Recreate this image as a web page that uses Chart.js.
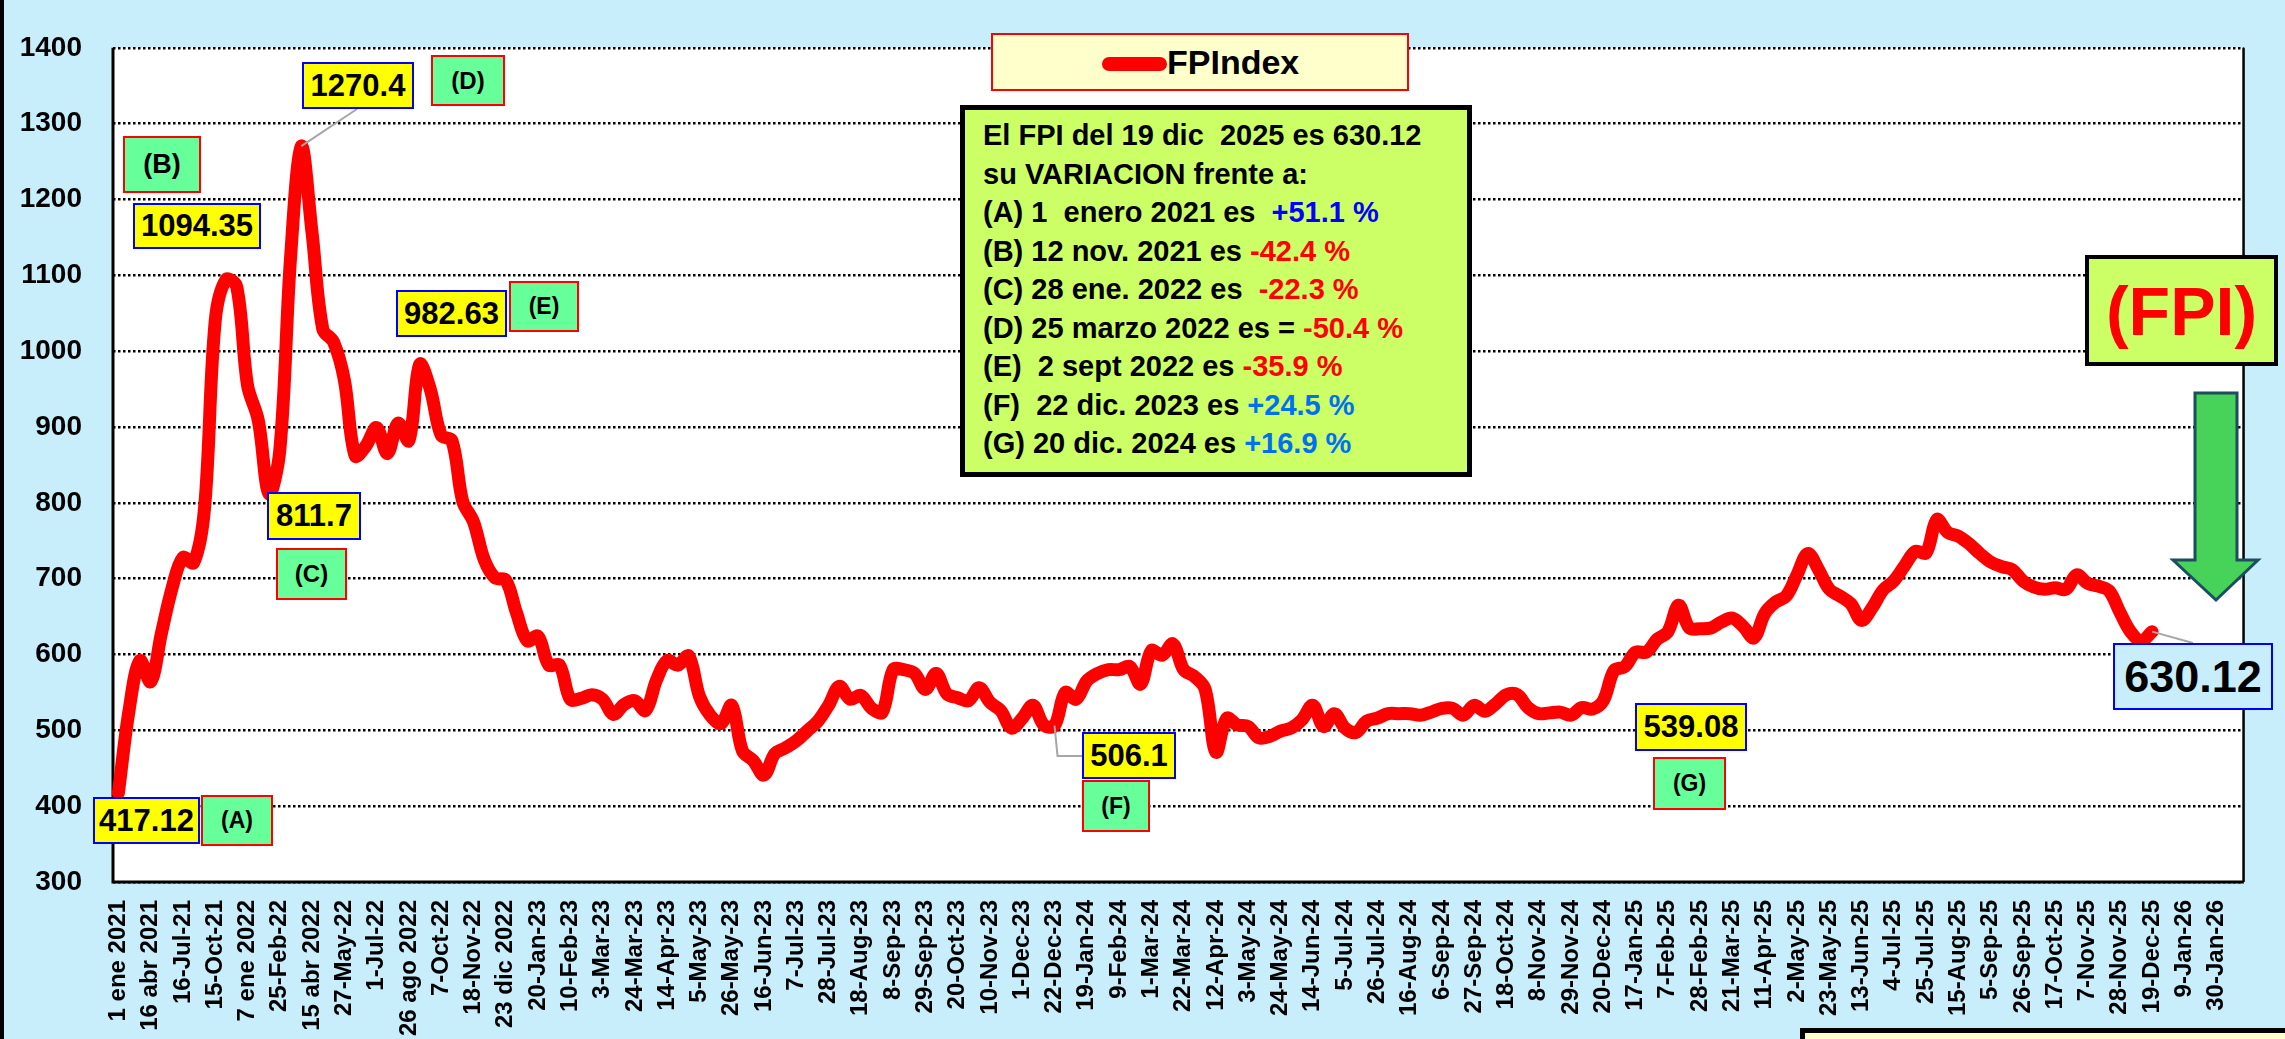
<!DOCTYPE html>
<html><head><meta charset="utf-8">
<script src="https://cdn.jsdelivr.net/npm/chart.js@4.4.1/dist/chart.umd.min.js"></script>
<style>
html,body{margin:0;padding:0;background:#C8EDFB;}
#wrap{position:relative;width:2285px;height:1039px;overflow:hidden;background:#C8EDFB;font-family:"Liberation Sans",Arial,sans-serif;font-weight:bold;}
#c{position:absolute;left:0;top:0;}
.box{position:absolute;box-sizing:border-box;display:flex;align-items:center;justify-content:center;color:#000;white-space:pre;}
.val{background:#FFFF00;border:2px solid #0000FF;font-size:31px;}
.tag{background:#66FF99;border:2px solid #FF0000;font-size:23px;}
#note{position:absolute;left:960px;top:105px;width:512px;height:372px;box-sizing:border-box;background:#CCFF66;border:5px solid #000;padding:6px 0 0 18px;font-size:29px;line-height:38.5px;white-space:pre;color:#000;}
.r{color:#FF0000}.b1{color:#0000FF}.b2{color:#0070F0}
#legend{position:absolute;left:991px;top:33px;width:418px;height:58px;box-sizing:border-box;background:#FFFFCC;border:2px solid #FF0000;}
#legline{position:absolute;left:109px;top:22px;width:65px;height:14px;border-radius:7px;background:#FF0000;}
#legtxt{position:absolute;left:174px;top:0;height:54px;line-height:54px;font-size:34px;color:#000;}
#fpi{position:absolute;left:2085px;top:255px;width:193px;height:111px;box-sizing:border-box;background:#CCFF66;border:4px solid #000;display:flex;align-items:center;justify-content:center;color:#FF0000;font-size:68px;}
#strip{position:absolute;left:0;top:0;width:4px;height:1039px;background:#000;}
#src{position:absolute;left:1800px;top:1028px;width:600px;height:100px;box-sizing:border-box;background:#FFFFCC;border:5px solid #000;}
svg{position:absolute;left:0;top:0;}
</style></head>
<body><div id="wrap">
<canvas id="c" width="2285" height="1039"></canvas>
<div id="strip"></div>
<div id="legend"><div id="legline"></div><div id="legtxt">FPIndex</div></div>
<div id="note"><div>El FPI del 19 dic  2025 es 630.12</div><div>su VARIACION frente a:</div><div>(A) 1  enero 2021 es  <span class="b1">+51.1 %</span></div><div>(B) 12 nov. 2021 es <span class="r">-42.4 %</span></div><div>(C) 28 ene. 2022 es  <span class="r">-22.3 %</span></div><div>(D) 25 marzo 2022 es = <span class="r">-50.4 %</span></div><div>(E)  2 sept 2022 es <span class="r">-35.9 %</span></div><div>(F)  22 dic. 2023 es <span class="b2">+24.5 %</span></div><div>(G) 20 dic. 2024 es <span class="b2">+16.9 %</span></div></div>
<div id="fpi">(FPI)</div>
<svg width="2285" height="1039"><polygon points="2195,393 2237,393 2237,560 2258,560 2216,600 2173,560 2195,560" fill="#47D35A" stroke="#1B4F5F" stroke-width="3" stroke-linejoin="miter"/></svg>
<div class="box val" style="left:93px;top:797px;width:107px;height:47px;">417.12</div>
<div class="box tag" style="left:201px;top:795px;width:72px;height:51px;">(A)</div>
<div class="box tag" style="left:123px;top:136px;width:78px;height:57px;font-size:27px;">(B)</div>
<div class="box val" style="left:133px;top:203px;width:128px;height:46px;">1094.35</div>
<div class="box val" style="left:302px;top:62px;width:112px;height:47px;">1270.4</div>
<div class="box tag" style="left:431px;top:55px;width:74px;height:51px;font-size:24px;">(D)</div>
<div class="box val" style="left:267px;top:492px;width:94px;height:48px;">811.7</div>
<div class="box tag" style="left:276px;top:548px;width:71px;height:52px;font-size:24px;">(C)</div>
<div class="box val" style="left:396px;top:290px;width:111px;height:47px;">982.63</div>
<div class="box tag" style="left:509px;top:281px;width:70px;height:51px;">(E)</div>
<div class="box val" style="left:1082px;top:732px;width:94px;height:47px;">506.1</div>
<div class="box tag" style="left:1082px;top:780px;width:68px;height:52px;">(F)</div>
<div class="box val" style="left:1635px;top:703px;width:112px;height:48px;">539.08</div>
<div class="box tag" style="left:1653px;top:757px;width:73px;height:53px;">(G)</div>
<div class="box val" style="left:2113px;top:643px;width:160px;height:67px;background:#C8EDFB;font-size:45px;">630.12</div>
<div id="src"></div>
</div>
<script>
// Tick labels shown on the category axis (one every 3 categories)
const tickLabels = ["1 ene 2021","16 abr 2021","16-Jul-21","15-Oct-21","7 ene 2022","25-Feb-22","15 abr 2022","27-May-22","1-Jul-22","26 ago 2022","7-Oct-22","18-Nov-22","23 dic 2022","20-Jan-23","10-Feb-23","3-Mar-23","24-Mar-23","14-Apr-23","5-May-23","26-May-23","16-Jun-23","7-Jul-23","28-Jul-23","18-Aug-23","8-Sep-23","29-Sep-23","20-Oct-23","10-Nov-23","1-Dec-23","22-Dec-23","19-Jan-24","9-Feb-24","1-Mar-24","22-Mar-24","12-Apr-24","3-May-24","24-May-24","14-Jun-24","5-Jul-24","26-Jul-24","16-Aug-24","6-Sep-24","27-Sep-24","18-Oct-24","8-Nov-24","29-Nov-24","20-Dec-24","17-Jan-25","7-Feb-25","28-Feb-25","21-Mar-25","11-Apr-25","2-May-25","23-May-25","13-Jun-25","4-Jul-25","25-Jul-25","15-Aug-25","5-Sep-25","26-Sep-25","17-Oct-25","7-Nov-25","28-Nov-25","19-Dec-25","9-Jan-26","30-Jan-26"];
const categoriesPerTick = 3;
// FPIndex series values (one per category)
const fpiValues = [417.12,527,592,564,628,688,728,721,792,1040,
1094.35,1085,955,909,811.7,869,1123,1270.4,1156,1029,
1012,962,862,875,899,865,905,882,982.63,949,
889,882,802,775,725,701,698,655,618,624,
586,586,541,542,547,541,521,534,539,526,
566,592,586,598,545,520,509,533,473,460,
441,469,477,486,499,512,533,558,541,546,
529,524,580,580,575,554,575,548,543,539,
556,537,526,503,516,533,507,506.1,550,541,
565,575,580,580,584,561,605,599,614,580,
571,554,471,516,507,505,490,492,499,503,
514,533,505,522,503,497,512,516,522,522,
522,520,524,529,529,520,533,525,535,547,
547,530,522,523,524,520,530,528,539.08,579,
584,603,603,620,630,665,635,634,635,643,
648,637,622,654,669,677,705,733,712,686,
677,667,645,662,685,697,717,736,734,778,
761,756,746,733,722,716,712,697,689,686,
688,686,705,694,690,684,656,630,618,630.12];
// Categories: tick label every 3rd category, others unlabeled
const categories = [];
for (let i = 0; i < tickLabels.length * categoriesPerTick; i++) {
  categories.push(i % categoriesPerTick === 0 ? tickLabels[i / categoriesPerTick] : '');
}
const FONT = '"Liberation Sans", Arial, sans-serif';

const framePlugin = {
  id: 'frame',
  beforeDraw(chart) {
    const a = chart.chartArea, c = chart.ctx;
    c.save(); c.fillStyle = '#FFFFFF';
    c.fillRect(a.left, a.top, a.right - a.left, a.bottom - a.top);
    c.restore();
  },
  beforeDatasetsDraw(chart) {
    const a = chart.chartArea, c = chart.ctx;
    c.save(); c.strokeStyle = '#000'; c.setLineDash([]);
    c.lineWidth = 3;
    c.beginPath(); c.moveTo(a.left, a.top); c.lineTo(a.left, a.bottom); c.lineTo(a.right, a.bottom); c.stroke();
    c.lineWidth = 2.5;
    c.beginPath(); c.moveTo(a.right, a.top); c.lineTo(a.right, a.bottom); c.stroke();
    c.restore();
  },
  afterDatasetsDraw(chart) {
    const c = chart.ctx, xs = chart.scales.x, ys = chart.scales.y;
    const pt = i => [xs.getPixelForValue(i), ys.getPixelForValue(fpiValues[i])];
    c.save(); c.strokeStyle = '#A6A6A6'; c.lineWidth = 2; c.setLineDash([]);
    let p = pt(17);
    c.beginPath(); c.moveTo(p[0], p[1]); c.lineTo(357, 109); c.stroke();
    p = pt(87);
    c.beginPath(); c.moveTo(p[0], p[1]); c.lineTo(p[0] + 3, 756); c.lineTo(1082, 756); c.stroke();
    p = pt(fpiValues.length - 1);
    c.beginPath(); c.moveTo(p[0], p[1]); c.lineTo(2193, 643); c.stroke();
    c.restore();
  }
};

new Chart(document.getElementById('c'), {
  type: 'line',
  data: {
    labels: categories,
    datasets: [{
      label: 'FPIndex', data: fpiValues, borderColor: '#FF0000', backgroundColor: '#FF0000',
      borderWidth: 13, pointRadius: 0, tension: 0.35, fill: false,
      borderCapStyle: 'round', borderJoinStyle: 'round'
    }]
  },
  options: {
    responsive: false, animation: false, devicePixelRatio: 1,
    layout: { padding: { left: 0, right: 13, top: 22, bottom: 0 } },
    plugins: { legend: { display: false }, tooltip: { enabled: false } },
    scales: {
      x: {
        type: 'category', offset: true,
        grid: { display: false, drawTicks: false }, border: { display: false },
        ticks: {
          autoSkip: false, maxRotation: 90, minRotation: 90, padding: 18, color: '#000',
          font: { family: FONT, size: 24, weight: 'bold' },
          callback: (v, i) => categories[i]
        },
        afterFit: s => { s.height = 157; }
      },
      y: {
        min: 300, max: 1400,
        ticks: { stepSize: 100, padding: 31, color: '#000', font: { family: FONT, size: 28, weight: 'bold' },
                 callback: v => String(v) },
        grid: { color: '#000', lineWidth: 2.5, drawTicks: false },
        border: { display: false, dash: [2.5, 2.5] },
        afterFit: s => { s.width = 113; }
      }
    }
  },
  plugins: [framePlugin]
});
</script>
</body></html>
